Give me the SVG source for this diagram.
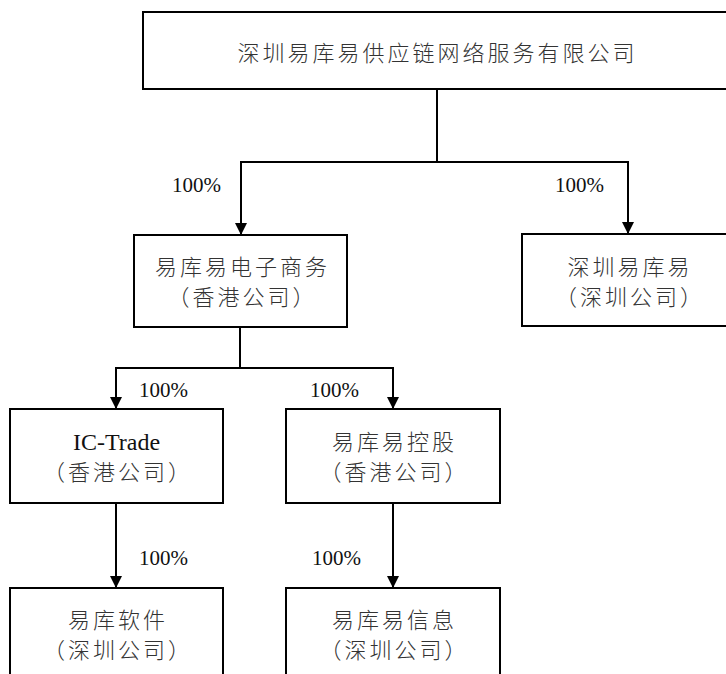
<svg xmlns="http://www.w3.org/2000/svg" width="726" height="674" viewBox="0 0 726 674">
<style>
.box{fill:#fff;stroke:#000;stroke-width:2}
.cn{font-family:"Liberation Serif","Noto Sans CJK SC",serif;font-size:22px;font-weight:300;letter-spacing:3px;text-anchor:middle;fill:#333}
.en{font-family:"Liberation Serif","Noto Sans CJK SC",serif;font-size:24px;text-anchor:middle;fill:#111}
.pct{font-family:"Liberation Serif",serif;font-size:21px;fill:#111}
.conn{fill:none;stroke:#000;stroke-width:2}
</style>
<defs>
<marker id="arr" markerUnits="userSpaceOnUse" markerWidth="12" markerHeight="14" viewBox="0 0 12 14" refX="12" refY="7" orient="auto">
<path d="M0,1 L12,7 L0,13 Z" fill="#000"/>
</marker>
</defs>
<rect width="726" height="674" fill="#fff"/>
<g id="connectors">
<path class="conn" d="M437 89 V162 H241 V235" marker-end="url(#arr)"/>
<path class="conn" d="M437 162 H628 V234" marker-end="url(#arr)"/>
<path class="conn" d="M240 327 V368 H116 V409" marker-end="url(#arr)"/>
<path class="conn" d="M240 368 H393 V409" marker-end="url(#arr)"/>
<path class="conn" d="M116 503 V588" marker-end="url(#arr)"/>
<path class="conn" d="M393 503 V588" marker-end="url(#arr)"/>
<text class="pct" x="172" y="192">100%</text>
<text class="pct" x="555" y="192">100%</text>
<text class="pct" x="139" y="397">100%</text>
<text class="pct" x="310" y="397">100%</text>
<text class="pct" x="139" y="565">100%</text>
<text class="pct" x="312" y="565">100%</text>
</g>
<g id="parent">
<rect class="box" x="143" y="12" width="590" height="77"/>
<text class="cn" x="437.5" y="61">深圳易库易供应链网络服务有限公司</text>
</g>
<g id="ecommerce-hk">
<rect class="box" x="134" y="235" width="213" height="92"/>
<text class="cn" x="242.5" y="275">易库易电子商务</text>
<text class="cn" x="242.5" y="305">（香港公司）</text>
</g>
<g id="shenzhen-ykey">
<rect class="box" x="522" y="234" width="213" height="92"/>
<text class="cn" x="630" y="275">深圳易库易</text>
<text class="cn" x="630" y="305">（深圳公司）</text>
</g>
<g id="ic-trade">
<rect class="box" x="10" y="409" width="213" height="94"/>
<text class="en" x="116.5" y="450">IC-Trade</text>
<text class="cn" x="118" y="480">（香港公司）</text>
</g>
<g id="holding-hk">
<rect class="box" x="286" y="409" width="214" height="94"/>
<text class="cn" x="394.5" y="450">易库易控股</text>
<text class="cn" x="394.5" y="480">（香港公司）</text>
</g>
<g id="software-sz">
<rect class="box" x="10" y="588" width="213" height="94"/>
<text class="cn" x="118" y="628">易库软件</text>
<text class="cn" x="118" y="658">（深圳公司）</text>
</g>
<g id="info-sz">
<rect class="box" x="286" y="588" width="214" height="94"/>
<text class="cn" x="394.5" y="628">易库易信息</text>
<text class="cn" x="394.5" y="658">（深圳公司）</text>
</g>
</svg>
